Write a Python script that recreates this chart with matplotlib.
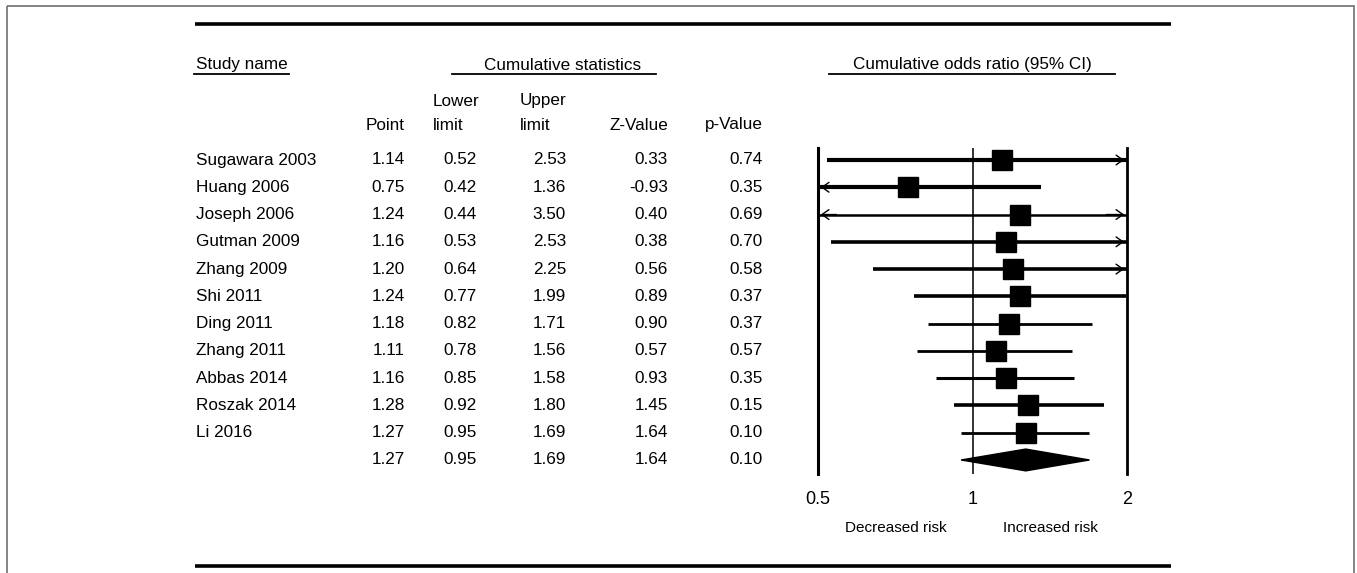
import numpy as np
import matplotlib.pyplot as plt
from matplotlib.patches import Polygon, Rectangle

plt.rcParams['font.family'] = ['Liberation Sans', 'DejaVu Sans']

# Study data (cumulative meta-analysis)
studies = ['Sugawara 2003', 'Huang 2006', 'Joseph 2006', 'Gutman 2009', 'Zhang 2009',
           'Shi 2011', 'Ding 2011', 'Zhang 2011', 'Abbas 2014', 'Roszak 2014', 'Li 2016']
point = [1.14, 0.75, 1.24, 1.16, 1.20, 1.24, 1.18, 1.11, 1.16, 1.28, 1.27]
lower = [0.52, 0.42, 0.44, 0.53, 0.64, 0.77, 0.82, 0.78, 0.85, 0.92, 0.95]
upper = [2.53, 1.36, 3.50, 2.53, 2.25, 1.99, 1.71, 1.56, 1.58, 1.80, 1.69]
zval = [0.33, -0.93, 0.40, 0.38, 0.56, 0.89, 0.90, 0.57, 0.93, 1.45, 1.64]
pval = [0.74, 0.35, 0.69, 0.70, 0.58, 0.37, 0.37, 0.57, 0.35, 0.15, 0.10]

# overall
sum_point, sum_lower, sum_upper, sum_z, sum_p = 1.27, 0.95, 1.69, 1.64, 0.10

xticks = [0.5, 1, 2]
xlabels = ['0.5', '1', '2']

W, H = 1357, 573
fig = plt.figure(figsize=(W / 100, H / 100), dpi=100)

# background axes in pixel coords for the table part
bg = fig.add_axes([0, 0, 1, 1])
bg.set_xlim(0, W)
bg.set_ylim(H, 0)
bg.axis('off')

# outer grey frame + thick rules
bg.add_patch(Rectangle((7, 6), 1347, 580, fill=False, ec='#707070', lw=1.2))
bg.plot([195, 1171], [24, 24], color='black', lw=2.6, solid_capstyle='butt')
bg.plot([195, 1171], [566, 566], color='black', lw=2.6, solid_capstyle='butt')

fs = 12.3
row0, dy = 160, 27.27

# headers
bg.text(196, 65, 'Study name', fontsize=fs, va='center', ha='left')
bg.plot([194, 289], [74, 74], color='black', lw=1.3)
bg.text(563, 65, 'Cumulative statistics', fontsize=fs, va='center', ha='center')
bg.plot([452, 656], [74, 74], color='black', lw=1.3)
bg.text(972, 65, 'Cumulative odds ratio (95% CI)', fontsize=fs, va='center', ha='center')
bg.plot([829, 1115], [74, 74], color='black', lw=1.3)

col_x = [405, 477, 566, 668, 763]
bg.text(col_x[0], 125, 'Point', fontsize=fs, va='center', ha='right')
bg.text(433, 101, 'Lower', fontsize=fs, va='center', ha='left')
bg.text(433, 125, 'limit', fontsize=fs, va='center', ha='left')
bg.text(520, 101, 'Upper', fontsize=fs, va='center', ha='left')
bg.text(520, 125, 'limit', fontsize=fs, va='center', ha='left')
bg.text(col_x[3], 125, 'Z-Value', fontsize=fs, va='center', ha='right')
bg.text(col_x[4], 125, 'p-Value', fontsize=fs, va='center', ha='right')

for i, name in enumerate(studies):
    y = row0 + dy * i
    bg.text(196, y, name, fontsize=fs, va='center', ha='left')
    vals = [point[i], lower[i], upper[i], zval[i], pval[i]]
    for cx, v in zip(col_x, vals):
        bg.text(cx, y, '%.2f' % v, fontsize=fs, va='center', ha='right')
ys = row0 + dy * len(studies)
for cx, v in zip(col_x, [sum_point, sum_lower, sum_upper, sum_z, sum_p]):
    bg.text(cx, ys, '%.2f' % v, fontsize=fs, va='center', ha='right')

# forest axes
x0, x1, ytop, ybot = 818, 1127, 148, 474
ax = fig.add_axes([x0 / W, (H - ybot) / H, (x1 - x0) / W, (ybot - ytop) / H])
ax.set_xscale('log')
ax.set_xlim(0.5, 2)
ylo = (ytop - row0) / dy
yhi = (ybot - row0) / dy
ax.set_ylim(yhi, ylo)
for s in ax.spines.values():
    s.set_visible(False)
ax.set_yticks([])
ax.set_xticks(xticks)
ax.set_xticklabels(xlabels, fontsize=13)
ax.minorticks_off()
ax.tick_params(axis='x', length=0, pad=12)

ax.axvline(0.5, color='black', lw=2.2, clip_on=False)
ax.axvline(2, color='black', lw=2.0, clip_on=False)
ax.axvline(1, color='#333333', lw=1.4)

line_w = [3.0, 3.0, 1.8, 2.6, 2.6, 2.6, 2.0, 2.0, 2.2, 2.6, 2.0]
for i in range(len(studies)):
    lo = max(lower[i], 0.5)
    hi = min(upper[i], 2)
    ax.plot([lo, hi], [i, i], color='black', lw=line_w[i], solid_capstyle='butt', zorder=3)
    if upper[i] > 2:
        ax.annotate('', xy=(2, i), xytext=(1.8, i),
                    arrowprops=dict(arrowstyle='->,head_length=0.5,head_width=0.35', lw=1.0, color='black'))
    if lower[i] < 0.5:
        ax.annotate('', xy=(0.5, i), xytext=(0.55, i),
                    arrowprops=dict(arrowstyle='->,head_length=0.5,head_width=0.35', lw=1.0, color='black'))
    ax.plot(point[i], i, marker='s', ms=15, color='black', zorder=4)

n = len(studies)
diamond = Polygon([[sum_lower, n], [sum_point, n - 0.4], [sum_upper, n], [sum_point, n + 0.4]],
                  closed=True, color='black', zorder=4)
ax.add_patch(diamond)

bg.text(896, 528, 'Decreased risk', fontsize=11, va='center', ha='center')
bg.text(1050, 528, 'Increased risk', fontsize=11, va='center', ha='center')

fig.savefig('out.png', dpi=100)
